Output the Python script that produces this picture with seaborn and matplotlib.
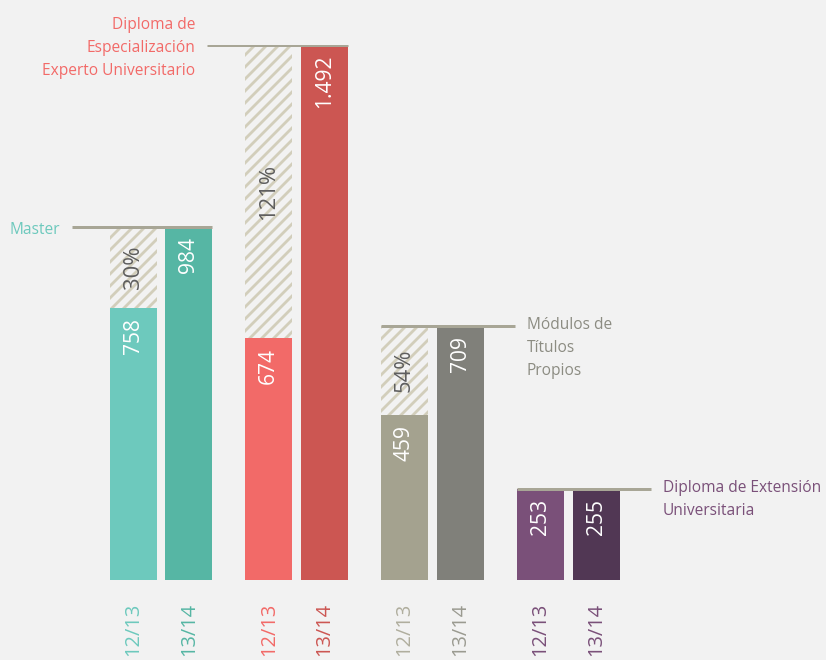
import pandas as pd
import matplotlib.pyplot as plt
import seaborn as sns

# alumnos por tipo de título propio, cursos 12/13 y 13/14
groups = ["Master", "Especializacion", "Modulos", "Extension"]
years = ["12/13", "13/14"]
students_1213 = [758, 674, 459, 253]
students_1314 = [984, 1492, 709, 255]
growth = ["30%", "121%", "54%", ""]
group_labels = [
    "Master",
    "Diploma de\nEspecialización\nExperto Universitario",
    "Módulos de\nTítulos\nPropios",
    "Diploma de Extensión\nUniversitaria",
]

colors_1213 = ["#6dc9bd", "#f26a68", "#a4a28f", "#7a5079"]
colors_1314 = ["#56b6a4", "#cc5652", "#80807a", "#513754"]
tick_1213 = ["#6dc9bd", "#f26a68", "#b0ae9e", "#7a5079"]
tick_1314 = ["#56b6a4", "#cc5652", "#9a9a90", "#7a5079"]
label_colors = ["#6dc9bd", "#f26a68", "#8c8c82", "#7a5079"]
label_side = ["left", "left", "right", "right"]

bg = "#f2f2f2"
hatch_col = "#d2cebb"
line_col = "#a8a696"

sns.set_style("white")
plt.rcParams["font.family"] = ["Open Sans", "DejaVu Sans"]
plt.rcParams["hatch.linewidth"] = 2.8
plt.rcParams["hatch.color"] = hatch_col

df = pd.DataFrame({
    "grupo": groups * 2,
    "curso": [years[0]] * 4 + [years[1]] * 4,
    "alumnos": students_1213 + students_1314,
})
# fondo rayado: hasta el valor del curso siguiente
df_hatch = df.copy()
df_hatch["alumnos"] = students_1314 * 2

fig = plt.figure(figsize=(826 / 72, 660 / 72), dpi=72, facecolor=bg)
ax = fig.add_axes([0, 80 / 660, 1, 535 / 660])
ax.set_facecolor(bg)

opts = dict(x="grupo", y="alumnos", hue="curso", order=groups, hue_order=years,
            width=0.824, gap=0.16, errorbar=None, legend=False, linewidth=0,
            saturation=1, ax=ax)

sns.barplot(data=df_hatch, **opts)
for bar in ax.containers[0]:
    bar.set_facecolor(bg)
    bar.set_edgecolor(hatch_col)
    bar.set_linewidth(0)
    bar.set_hatch("//")
for bar in ax.containers[1]:
    bar.set_alpha(0)

sns.barplot(data=df, **opts)
bars_1213 = ax.containers[2]
bars_1314 = ax.containers[3]

px = 1 / 135.7  # ancho de un pixel en unidades de datos

for i in range(len(groups)):
    b1, b2 = bars_1213[i], bars_1314[i]
    b1.set_facecolor(colors_1213[i])
    b2.set_facecolor(colors_1314[i])
    c1 = b1.get_x() + b1.get_width() / 2
    c2 = b2.get_x() + b2.get_width() / 2
    v1, v2 = students_1213[i], students_1314[i]

    # valores
    for c, v in [(c1, v1), (c2, v2)]:
        ax.annotate(f"{v:,}".replace(",", "."), xy=(c, v), xytext=(0, -10),
                    textcoords="offset points", rotation=90, ha="center",
                    va="top", color="white", fontsize=21)
    # crecimiento
    if growth[i]:
        ax.text(c1, (v1 + v2) / 2, growth[i], rotation=90, ha="center",
                va="center", color="#5e5e5e", fontsize=22)
    # cursos
    for c, yr, col in [(c1, years[0], tick_1213[i]), (c2, years[1], tick_1314[i])]:
        ax.annotate(yr, xy=(c, 0), xytext=(0, -23), textcoords="offset points",
                    rotation=90, ha="center", va="top", color=col, fontsize=20,
                    annotation_clip=False)

    # linea de referencia y etiqueta
    left = b1.get_x()
    right = b2.get_x() + b2.get_width()
    if label_side[i] == "left":
        left -= 38 * px
        ax.plot([left, right], [v2, v2], color=line_col, lw=3,
                solid_capstyle="butt", zorder=5)
        ax.annotate(group_labels[i], xy=(left, v2), xytext=(-12, -3),
                    textcoords="offset points", ha="right", va="center",
                    multialignment="right", color=label_colors[i],
                    fontsize=15.5, linespacing=1.6)
    else:
        right += 31 * px
        ax.plot([left, right], [v2, v2], color=line_col, lw=3,
                solid_capstyle="butt", zorder=5)
        ax.annotate(group_labels[i], xy=(right, v2), xytext=(12, 9),
                    textcoords="offset points", ha="left", va="top",
                    multialignment="left", color=label_colors[i],
                    fontsize=15.5, linespacing=1.6)

ax.set_xlim(-161 * px, 665 * px)
ax.set_ylim(0, 1492)
ax.axis("off")

fig.savefig("out.png", dpi=72, facecolor=bg)
